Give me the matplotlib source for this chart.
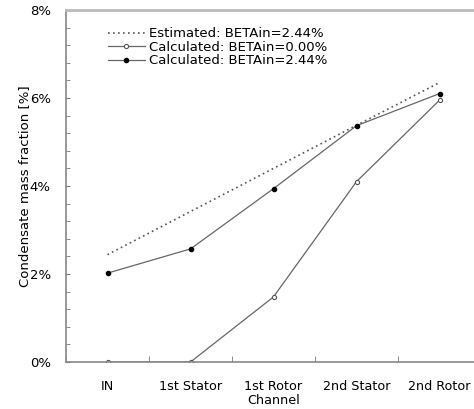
import matplotlib.pyplot as plt
from matplotlib.ticker import MultipleLocator, FuncFormatter
import numpy as np

channels = ['IN', '1st Stator', '1st Rotor', '2nd Stator', '2nd Rotor']
estimated = [2.44, 3.42, 4.40, 5.38, 6.35]
calc_beta0 = [0.0, 0.0, 1.48, 4.10, 5.95]
calc_beta244 = [2.02, 2.57, 3.94, 5.37, 6.10]

plt.rcParams['font.family'] = ['DejaVu Sans']
fig = plt.figure(figsize=(4.74, 4.09), dpi=100)
ax = fig.add_axes([66 / 474, 1 - 362 / 409, 415 / 474, 352 / 409])

x = np.arange(len(channels))
line_c = '#666666'
ax.plot(x, estimated, ls=(0, (1, 2)), color='#555555', lw=1.2,
        label='Estimated: BETAin=2.44%')
ax.plot(x, calc_beta0, '-', color=line_c, lw=0.9, marker='o', ms=3,
        mfc='white', mec='#555555', mew=0.8, label='Calculated: BETAin=0.00%')
ax.plot(x, calc_beta244, '-', color=line_c, lw=0.9, marker='o', ms=3,
        mfc='black', mec='black', label='Calculated: BETAin=2.44%')

ax.set_xlim(-0.5, 4.5)
ax.set_ylim(0, 8)
ax.set_xticks(x, channels)
ax.set_xticks(np.arange(-0.5, 5, 1), minor=True)
ax.yaxis.set_major_locator(MultipleLocator(2))
ax.yaxis.set_minor_locator(MultipleLocator(0.4))
ax.yaxis.set_major_formatter(FuncFormatter(lambda v, p: '%d%%' % v))

ax.tick_params(axis='x', which='major', length=0, pad=13, labelsize=9.2)
ax.tick_params(axis='x', which='minor', direction='in', length=4, color='#777777')
ax.tick_params(axis='y', which='both', direction='in', length=3, color='#777777',
               labelsize=9.5, pad=11)

for s in ['left', 'bottom', 'top']:
    ax.spines[s].set_color('#888888')
    ax.spines[s].set_linewidth(1.2)
ax.spines['top'].set_color('#bbbbbb')
ax.spines['top'].set_linewidth(2)
ax.spines['right'].set_visible(False)

ax.set_xlabel('Channel', fontsize=9.2, labelpad=1)
ax.set_ylabel('Condensate mass fraction [%]', fontsize=9.5, labelpad=-1)

ax.legend(loc='upper left', bbox_to_anchor=(0.085, 0.97), frameon=False,
          fontsize=9.5, handlelength=2.8, handletextpad=0.3, labelspacing=0.05,
          borderpad=0)

fig.savefig('out.png', dpi=100)
